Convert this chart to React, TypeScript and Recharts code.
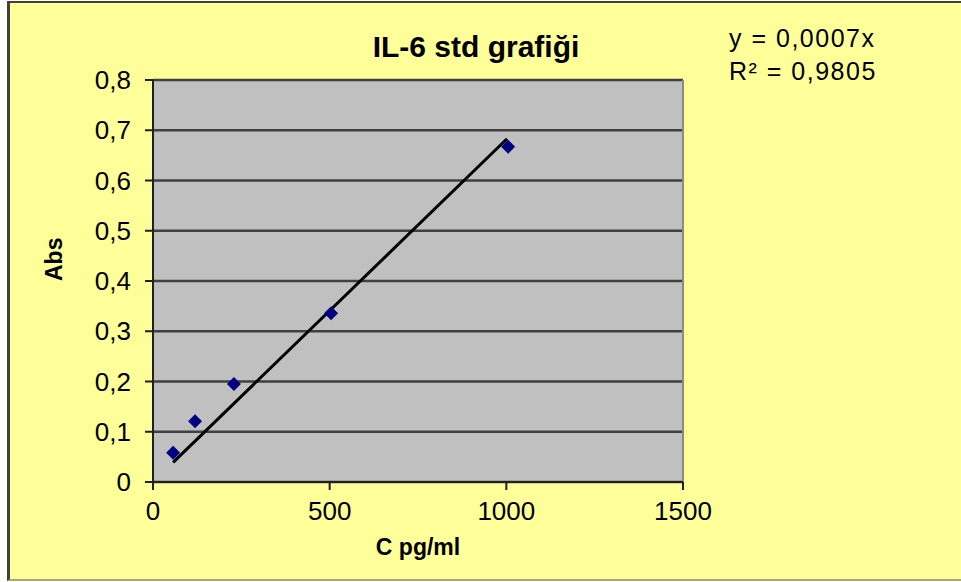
import React from "react";
import {
  CartesianGrid,
  ReferenceLine,
  Scatter,
  ScatterChart,
  XAxis,
  YAxis,
} from "recharts";

// standard curve readings
const concentrations = [57, 119, 229, 504, 1005];
const absorbances = [0.058, 0.121, 0.195, 0.336, 0.667];
// trendline through origin, as drawn
const trendX = [57, 1002];
const trendY = [0.039, 0.683];
const xTicks = [0, 500, 1000, 1500];
const yTicks = [0, 0.1, 0.2, 0.3, 0.4, 0.5, 0.6, 0.7, 0.8];

const points = concentrations.map((x, i) => ({ x, y: absorbances[i] }));
const trend = trendX.map((x, i) => ({ x, y: trendY[i] }));

const FONT = "'Liberation Sans', Arial, sans-serif";

const Diamond = (props: any) => {
  const { cx, cy } = props;
  const r = 7;
  return (
    <polygon
      points={`${cx},${cy - r} ${cx + r},${cy} ${cx},${cy + r} ${cx - r},${cy}`}
      fill="#000080"
    />
  );
};

const fmt = (v: number) => String(v).replace(".", ",");

export default function App() {
  return (
    <div
      style={{
        position: "absolute",
        left: 0,
        top: 0,
        width: 961,
        height: 582,
        background: "#fff",
        fontFamily: FONT,
        overflow: "hidden",
      }}
    >
      {/* chart frame */}
      <div
        style={{
          position: "absolute",
          left: 7,
          top: 1,
          width: 970,
          height: 580,
          background: "#FFFF99",
          boxSizing: "border-box",
          borderTop: "2px solid #404040",
          borderLeft: "3px solid #404040",
          borderBottom: "2px solid #a8a870",
        }}
      />
      <div style={{ position: "absolute", left: 0, top: 0 }}>
        <ScatterChart
          width={961}
          height={582}
          margin={{ top: 80, right: 278, bottom: 0, left: 0 }}
        >
          <CartesianGrid
            vertical={false}
            fill="#C0C0C0"
            stroke="#404040"
            strokeWidth={2.5}
          />
          <ReferenceLine x={1500} stroke="#8a8a8a" strokeWidth={2} />
          <XAxis
            type="number"
            dataKey="x"
            domain={[0, 1500]}
            ticks={xTicks}
            height={100}
            tickSize={8}
            stroke="#202020"
            strokeWidth={2}
            tick={{ fill: "#000", fontSize: 26, fontFamily: FONT, dy: 10 }}
            label={{
              value: "C pg/ml",
              position: "insideTop",
              offset: 57,
              fill: "#000",
              fontSize: 23,
              fontWeight: "bold",
              fontFamily: FONT,
            }}
          />
          <YAxis
            type="number"
            dataKey="y"
            domain={[0, 0.8]}
            ticks={yTicks}
            width={153}
            tickSize={8}
            stroke="#202020"
            strokeWidth={2}
            tickFormatter={fmt}
            tick={{ fill: "#000", fontSize: 26, fontFamily: FONT, dx: -12 }}
            label={{
              value: "Abs",
              angle: -90,
              position: "insideLeft",
              offset: 54,
              fill: "#000",
              fontSize: 23,
              fontWeight: "bold",
              fontFamily: FONT,
            }}
          />
          <Scatter
            data={trend}
            line={{ stroke: "#000", strokeWidth: 3 }}
            shape={() => <g />}
            isAnimationActive={false}
          />
          <Scatter data={points} shape={Diamond} isAnimationActive={false} />
        </ScatterChart>
      </div>
      <div
        style={{
          position: "absolute",
          left: 476,
          top: 29,
          transform: "translateX(-50%)",
          fontSize: 30,
          lineHeight: "36px",
          fontWeight: "bold",
          whiteSpace: "nowrap",
        }}
      >
        IL-6 std grafiği
      </div>
      <div
        style={{
          position: "absolute",
          left: 729,
          top: 22,
          fontSize: 25,
          letterSpacing: 1.5,
          lineHeight: "33px",
          whiteSpace: "nowrap",
        }}
      >
        y = 0,0007x
        <br />
        R² = 0,9805
      </div>
    </div>
  );
}
